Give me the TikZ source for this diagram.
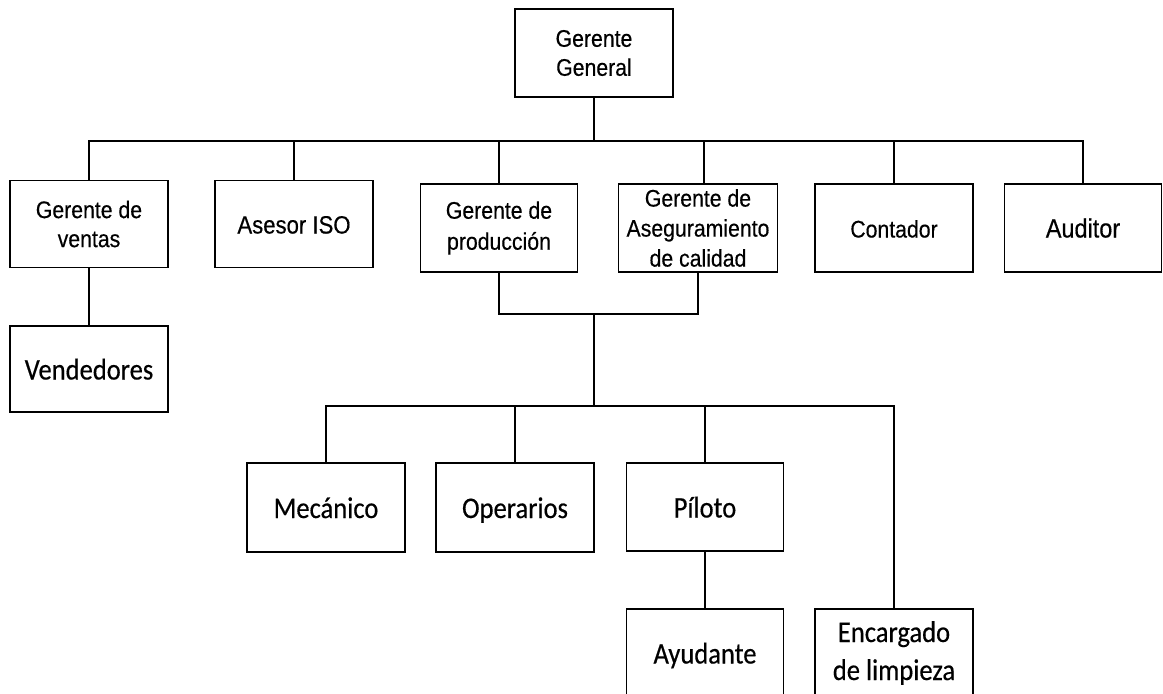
\documentclass[tikz,border=0pt]{standalone}
\usepackage{fontspec}
\setmainfont{Liberation Sans}[FakeStretch=0.885, FakeBold=0.4]
\newfontfamily\calib{Carlito}[FakeStretch=0.885, FakeBold=0.4]
\usetikzlibrary{calc}
\tikzset{
  unit/.style={draw=black, line width=1.3pt, minimum width=158pt, minimum height=88pt,
    inner sep=0pt, align=center, text=black},
  arialtxt/.style={font=\fontsize{24}{29}\selectfont},
  calibtxt/.style={font=\calib\fontsize{30}{38}\selectfont},
  % single-line labels: fixed baseline below the box centre
  arialone/.style={text height=19pt, text depth=0pt},
  calibone/.style={text height=21pt, text depth=0pt},
  link/.style={draw=black, line width=1.3pt}
}
\begin{document}
\begin{tikzpicture}[x=1pt, y=-1pt]
  \useasboundingbox (0,0) rectangle (1163,694);
  \clip (0,0) rectangle (1163,694);

  % top level
  \node[unit, arialtxt] (gg) at (594,53) {Gerente\\General};

  % second level
  \node[unit, arialtxt, minimum height=87pt] (ventas) at (89,224) {Gerente de\\ventas};
  \node[unit, arialone, minimum height=87pt, font=\fontsize{25}{29}\selectfont] (iso) at (294,224) {Asesor ISO};
  \node[unit, arialtxt, font=\fontsize{24}{31}\selectfont, minimum width=157pt] (prod) at (499,228) {Gerente de\\producción};
  \node[unit, arialtxt, font=\fontsize{24}{30}\selectfont, minimum width=159pt] (aseg) at (698,228) {Gerente de\\Aseguramiento\\de calidad};
  \node[unit, arialone, font=\fontsize{24}{29}\selectfont] (cont) at (894,228) {Contador};
  \node[unit, arialone, minimum width=157pt, font=\fontsize{26.5}{30}\selectfont] (aud) at (1083,228) {Auditor};

  % under sales
  \node[unit, calibtxt, calibone, minimum height=86pt] (vend) at (89,369) {Vendedores};

  % production staff
  \node[unit, calibtxt, calibone, minimum height=89pt] (mec) at (326,507.5) {Mecánico};
  \node[unit, calibtxt, calibone, minimum height=89pt] (oper) at (515,507.5) {Operarios};
  \node[unit, calibtxt, calibone, minimum width=157pt] (pil) at (705,507) {Píloto};
  \node[unit, calibtxt, calibone, minimum width=157pt] (ayu) at (705,653) {Ayudante};
  \node[unit, calibtxt] (enc) at (894,653) {Encargado\\de limpieza};

  % buses
  \coordinate (bus1) at (594,141);
  \coordinate (join) at (594,314);
  \coordinate (bus2) at (594,406);

  % connectors from the general manager
  \draw[link] (gg.south) -- (bus1);
  \draw[link] (ventas.north) -- (ventas.north |- bus1) -- (aud.north |- bus1) -- (aud.north);
  \draw[link] (iso.north) -- (iso.north |- bus1);
  \draw[link] (prod.north) -- (prod.north |- bus1);
  \draw[link] ([xshift=6pt]aseg.north) -- ([xshift=6pt]aseg.north |- bus1);
  \draw[link] (cont.north) -- (cont.north |- bus1);

  % sales branch
  \draw[link] (ventas.south) -- (vend.north);

  % production and quality join
  \draw[link] (prod.south) -- (prod.south |- join) -- (aseg.south |- join) -- (aseg.south);
  \draw[link] (join) -- (bus2);

  % staff bus
  \draw[link] (mec.north) -- (mec.north |- bus2) -- (enc.north |- bus2) -- (enc.north);
  \draw[link] (oper.north) -- (oper.north |- bus2);
  \draw[link] (pil.north) -- (pil.north |- bus2);
  \draw[link] (pil.south) -- (ayu.north);
\end{tikzpicture}
\end{document}
